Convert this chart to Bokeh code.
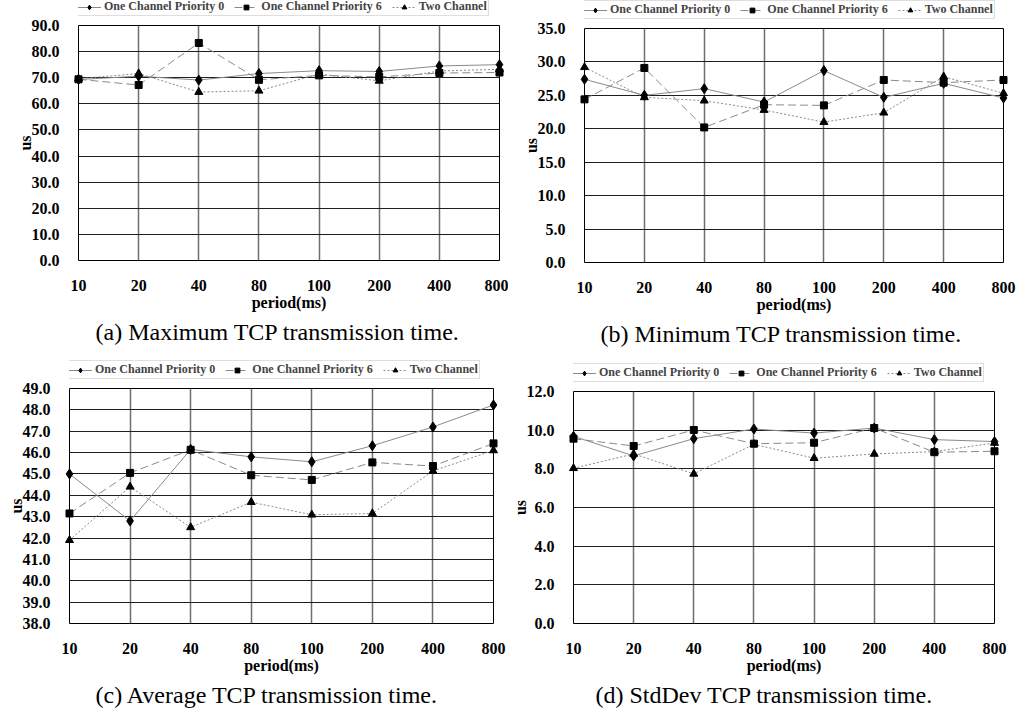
from bokeh.plotting import figure
from bokeh.models import Range1d, FixedTicker, NumeralTickFormatter, Legend, LegendItem
from bokeh.layouts import column, row
from bokeh.embed import file_html
from bokeh.resources import INLINE

# ---------------- data ----------------
periods = ["10", "20", "40", "80", "100", "200", "400", "800"]
series_names = ["One Channel Priority 0", "One Channel Priority 6", "Two Channel"]

max_p0 = [69.3, 70.6, 69.1, 71.6, 72.7, 72.4, 74.5, 75.0]
max_p6 = [69.4, 67.2, 83.3, 69.2, 70.9, 70.3, 71.8, 72.0]
max_two = [69.6, 71.6, 64.5, 65.0, 71.4, 68.8, 72.6, 73.2]

min_p0 = [27.4, 25.0, 26.0, 24.0, 28.7, 24.7, 26.8, 24.6]
min_p6 = [24.4, 29.1, 20.2, 23.6, 23.5, 27.3, 26.9, 27.3]
min_two = [29.2, 24.7, 24.2, 22.8, 21.0, 22.4, 27.8, 25.3]

avg_p0 = [45.0, 42.8, 46.15, 45.8, 45.57, 46.32, 47.2, 48.23]
avg_p6 = [43.15, 45.05, 46.13, 44.94, 44.72, 45.54, 45.37, 46.43]
avg_two = [41.9, 44.4, 42.5, 43.68, 43.09, 43.15, 45.14, 46.1]

std_p0 = [9.68, 8.67, 9.56, 10.06, 9.85, 10.11, 9.51, 9.41]
std_p6 = [9.56, 9.18, 10.01, 9.30, 9.35, 10.11, 8.86, 8.91]
std_two = [8.03, 8.77, 7.74, 9.27, 8.55, 8.77, 8.89, 9.34]

captions = ["(a) Maximum TCP transmission time.",
            "(b) Minimum TCP transmission time.",
            "(c) Average TCP transmission time.",
            "(d) StdDev TCP transmission time."]

SERIF = "Liberation Serif"
STYLES = [("solid", "diamond", 10), ("8 4", "square", 7), ("2 2", "triangle", 8)]
LINE_COLOR = "#8a8a8a"
TOP_PAD = 9  # room above the chart frame for the top tick label


def make_legend_strip(values, width, height, bl, br):
    """A thin figure holding only the legend, stacked above the chart.
    Its data range is set so the series themselves fall outside the view."""
    xs = list(range(len(periods)))
    lf = figure(width=width, height=height, output_backend="svg", toolbar_location=None,
                x_axis_type=None, y_axis_type=None,
                x_range=Range1d(0, 1), y_range=Range1d(-2, -1),
                min_border_left=bl, min_border_right=br,
                min_border_top=0, min_border_bottom=0)
    lf.outline_line_color = None
    lf.xgrid.visible = False
    lf.ygrid.visible = False
    items = []
    for name, vals, (dash, marker, size) in zip(series_names, values, STYLES):
        lr = lf.line(xs, vals, line_color=LINE_COLOR, line_width=1, line_dash=dash)
        sr = lf.scatter(xs, vals, marker=marker, size=7, fill_color="black",
                        line_color="black")
        items.append(LegendItem(label=name, renderers=[lr, sr]))
    legend = Legend(items=items, orientation="horizontal", location=(-3, 0),
                    margin=0, padding=1, spacing=10, glyph_width=24, glyph_height=12,
                    label_height=12, label_standoff=3,
                    label_text_font=SERIF, label_text_font_style="bold",
                    label_text_font_size="12px",
                    border_line_color="#bdbdbd", border_line_width=1,
                    background_fill_color="white", background_fill_alpha=1.0)
    lf.add_layout(legend)
    return lf


def make_panel(caption, values, y_lo, y_hi, y_step, width, height,
               bl, br, bt, bb, cap_offset):
    xs = list(range(len(periods)))
    p = figure(width=width, height=height - bt + TOP_PAD, output_backend="svg",
               toolbar_location=None,
               x_range=Range1d(0, len(periods) - 1), y_range=Range1d(y_lo, y_hi),
               min_border_left=bl, min_border_right=br,
               min_border_top=TOP_PAD, min_border_bottom=bb,
               title=caption, title_location="below")
    p.title.text_font = SERIF
    p.title.text_font_style = "normal"
    p.title.text_font_size = "24px"
    p.title.text_color = "black"
    p.title.align = "left"
    p.title.offset = cap_offset
    p.title.standoff = 7

    n_ticks = int(round((y_hi - y_lo) / y_step)) + 1
    p.yaxis.ticker = FixedTicker(ticks=[y_lo + i * y_step for i in range(n_ticks)])
    p.yaxis.formatter = NumeralTickFormatter(format="0.0")
    p.xaxis.ticker = FixedTicker(ticks=xs)
    p.xaxis.major_label_overrides = {i: lab for i, lab in enumerate(periods)}

    for ax in (p.xaxis, p.yaxis):
        ax.axis_line_color = None
        ax.major_tick_line_color = None
        ax.minor_tick_line_color = None
        ax.major_label_text_font = SERIF
        ax.major_label_text_font_style = "bold"
        ax.major_label_text_font_size = "16px"
        ax.major_label_text_color = "black"
        ax.axis_label_text_font = SERIF
        ax.axis_label_text_font_style = "bold"
        ax.axis_label_text_font_size = "16px"
        ax.axis_label_text_color = "black"
    p.xaxis.axis_label = "period(ms)"
    p.yaxis.axis_label = "us"
    p.xaxis.major_label_standoff = 13
    p.xaxis.axis_label_standoff = 0
    p.yaxis.major_label_standoff = 13
    p.yaxis.axis_label_standoff = -5

    p.outline_line_color = "black"
    p.outline_line_width = 1
    p.xgrid.grid_line_color = "#6e6e6e"
    p.xgrid.grid_line_width = 1.5
    p.ygrid.grid_line_color = "#1e1e1e"
    p.ygrid.grid_line_width = 1

    for vals, (dash, marker, size) in zip(values, STYLES):
        p.line(xs, vals, line_color=LINE_COLOR, line_width=1, line_dash=dash)
        p.scatter(xs, vals, marker=marker, size=size, fill_color="black",
                  line_color="black", level="overlay")

    strip = make_legend_strip(values, width, bt - TOP_PAD, bl, br)
    return column(strip, p, spacing=0)


pa = make_panel(captions[0], [max_p0, max_p6, max_two], 0, 90, 10,
                508, 360, 78, 9, 25, 100, 17)
pb = make_panel(captions[1], [min_p0, min_p6, min_two], 0, 35, 5,
                510, 360, 76, 15, 28, 98, 16)
pc = make_panel(captions[2], [avg_p0, avg_p6, avg_two], 38, 49, 1,
                508, 351, 69, 15, 28, 87, 26)
pd = make_panel(captions[3], [std_p0, std_p6, std_two], 0, 12, 2,
                510, 351, 63, 24, 31, 88, 22)

layout = column(row(pa, pb, spacing=0), row(pc, pd, spacing=0), spacing=0)
open("out.html", "w").write(file_html(layout, INLINE))
